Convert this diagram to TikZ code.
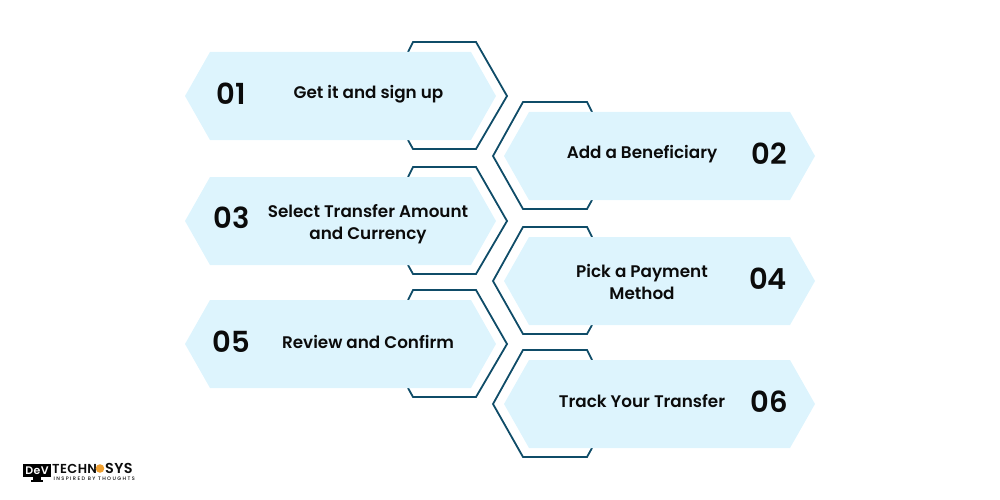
\documentclass[tikz,border=0pt]{standalone}
\usepackage{fontspec}
\setmainfont{Poppins}
\newfontfamily\lab{Poppins SemiBold}
\newfontfamily\logof{Poppins SemiBold}[LetterSpace=3]
\newfontfamily\logotag{Poppins Medium}[LetterSpace=28]
\definecolor{hexfill}{HTML}{DDF4FD}
\definecolor{hexline}{HTML}{0F4C68}
\definecolor{ink}{HTML}{0B0B0B}
\definecolor{logoorange}{HTML}{F0A030}
\tikzset{
 hexbox/.style={fill=hexfill,draw=none},
 hexrim/.style={draw=hexline,line width=1.8pt,line join=miter},
 steptext/.style={font=\lab\fontsize{16.8}{22.5}\selectfont,text=ink,align=center,inner sep=0pt},
 numtext/.style={font=\lab\fontsize{29}{29}\selectfont,text=ink,inner sep=0pt},
}
\newcommand{\lefthex}[1]{%
 \draw[hexrim] (408,#1-44) -- (413,#1-54) -- (476,#1-54) -- (507,#1) -- (476,#1+53) -- (413,#1+53) -- (408,#1+44);
 \fill[hexbox] (185,#1) -- (210,#1-44) -- (471,#1-44) -- (496,#1) -- (471,#1+44) -- (210,#1+44) -- cycle;
}
\newcommand{\righthex}[1]{%
 \draw[hexrim] (592,#1-44) -- (587,#1-54) -- (523,#1-54) -- (493,#1) -- (523,#1+53) -- (587,#1+53) -- (592,#1+44);
 \fill[hexbox] (504,#1) -- (529,#1-44) -- (790,#1-44) -- (815,#1) -- (790,#1+44) -- (529,#1+44) -- cycle;
}
\begin{document}
\begin{tikzpicture}[x=1pt,y=-1pt]
\useasboundingbox (0,0) rectangle (1000,500);
\lefthex{96}
\lefthex{221}
\lefthex{344}
\righthex{156}
\righthex{281}
\righthex{404}
\node[numtext] (n1) at (231,93.5) {01};
\node[numtext] (n2) at (769,153.5) {02};
\node[numtext] (n3) at (232,217.5) {03};
\node[numtext] (n4) at (768,278.5) {04};
\node[numtext] (n5) at (231,341.5) {05};
\node[numtext] (n6) at (769,401.5) {06};
\node[steptext] (t1) at (368.5,94.5) {Get it and sign up};
\node[steptext] (t2) at (642,154) {Add a Beneficiary};
\node[steptext] (t3) at (368,224) {Select Transfer Amount\\and Currency};
\node[steptext] (t4) at (642,282) {Pick a Payment\\Method};
\node[steptext] (t5) at (368,342) {Review and Confirm};
\node[steptext] (t6) at (642,401) {Track Your Transfer};
% logo
\fill[black] (23,464) rectangle (51,477);
\fill[black] (33,477) rectangle (41,480);
\fill[black] (31,480) rectangle (43,481.5);
\node[font=\logof\fontsize{11}{11}\selectfont,text=white,inner sep=0pt] (logod) at (37,470.5) {DeV};
\node[font=\logof\fontsize{13}{14}\selectfont,text=ink,inner sep=0pt,anchor=west] (logot) at (52,468.5) {TECHN};
\fill[logoorange] (100,468.5) circle (4.3);
\node[font=\logof\fontsize{14.4}{14}\selectfont,text=ink,inner sep=0pt,anchor=west] (logos) at (105,468) {SYS};
\node[font=\logotag\fontsize{5}{6}\selectfont,text=ink,inner sep=0pt,anchor=west] (logou) at (53.5,478.6) {INSPIRED BY THOUGHTS};
\end{tikzpicture}
\end{document}
